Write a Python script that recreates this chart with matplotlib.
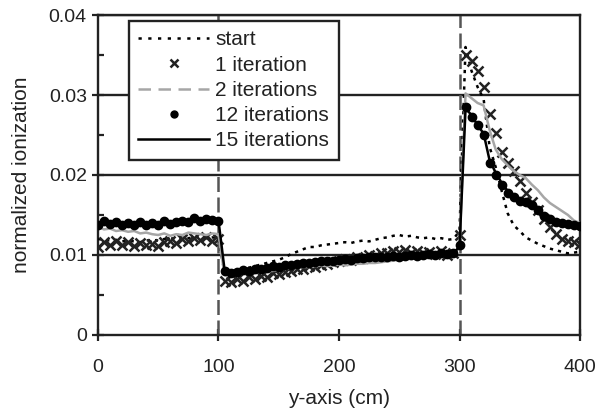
import numpy as np
import matplotlib
matplotlib.use('Agg')
import matplotlib.pyplot as plt
from matplotlib.lines import Line2D

plt.rcParams['font.family'] = ['Liberation Sans', 'DejaVu Sans']
plt.rcParams['font.size'] = 14

# position along y-axis (cm), every 5 cm
ypos = np.arange(0, 401, 5)

start = [0.0120, 0.0119, 0.0118, 0.0119, 0.0117, 0.0118, 0.0117, 0.0116, 0.0118, 0.0119,
         0.0118, 0.0120, 0.0121, 0.0120, 0.0122, 0.0121, 0.0122, 0.0123, 0.0121, 0.0122, 0.0121,
         0.0078, 0.0079, 0.0081, 0.0082, 0.0084, 0.0086, 0.0088, 0.0090, 0.0092, 0.0094,
         0.0097, 0.0101, 0.0104, 0.0107, 0.0110, 0.0110, 0.0112, 0.0113, 0.0114, 0.0115,
         0.0116, 0.0115, 0.0117, 0.0118, 0.0117, 0.0119, 0.0121, 0.0122, 0.0124, 0.0125,
         0.0123, 0.0124, 0.0122, 0.0121, 0.0122, 0.0120, 0.0121, 0.0119, 0.0120, 0.0130,
         0.0360, 0.0330, 0.0310, 0.0295, 0.0235, 0.0210, 0.0180, 0.0152, 0.0137, 0.0130,
         0.0122, 0.0118, 0.0114, 0.0111, 0.0108, 0.0106, 0.0104, 0.0102, 0.0103, 0.0104]

iter1 = [0.0110, 0.0116, 0.0112, 0.0117, 0.0113, 0.0116, 0.0111, 0.0115, 0.0112, 0.0114,
         0.0111, 0.0116, 0.0118, 0.0115, 0.0120, 0.0117, 0.0121, 0.0119, 0.0122, 0.0118, 0.0120,
         0.0068, 0.0066, 0.0070, 0.0068, 0.0072, 0.0070, 0.0074, 0.0073, 0.0077, 0.0076,
         0.0079, 0.0080, 0.0083, 0.0082, 0.0086, 0.0085, 0.0088, 0.0089, 0.0091, 0.0092,
         0.0095, 0.0094, 0.0097, 0.0096, 0.0100, 0.0099, 0.0102, 0.0103, 0.0105, 0.0104,
         0.0106, 0.0103, 0.0105, 0.0102, 0.0104, 0.0101, 0.0105, 0.0100, 0.0103, 0.0125,
         0.0350, 0.0343, 0.0330, 0.0310, 0.0276, 0.0252, 0.0229, 0.0215, 0.0205, 0.0192,
         0.0177, 0.0166, 0.0156, 0.0145, 0.0135, 0.0126, 0.0120, 0.0117, 0.0116, 0.0114]

iter2 = [0.0135, 0.0132, 0.0133, 0.0130, 0.0131, 0.0129, 0.0130, 0.0127, 0.0128, 0.0126,
         0.0125, 0.0127, 0.0124, 0.0126, 0.0125, 0.0128, 0.0127, 0.0126, 0.0125, 0.0127, 0.0126,
         0.0075, 0.0074, 0.0075, 0.0077, 0.0076, 0.0078, 0.0079, 0.0080, 0.0080, 0.0082,
         0.0083, 0.0083, 0.0084, 0.0085, 0.0085, 0.0086, 0.0087, 0.0086, 0.0087, 0.0088,
         0.0087, 0.0088, 0.0089, 0.0089, 0.0090, 0.0090, 0.0091, 0.0092, 0.0093, 0.0094,
         0.0095, 0.0095, 0.0096, 0.0096, 0.0097, 0.0097, 0.0098, 0.0098, 0.0099, 0.0110,
         0.0302, 0.0296, 0.0290, 0.0287, 0.0256, 0.0232, 0.0220, 0.0212, 0.0205, 0.0200,
         0.0196, 0.0188, 0.0181, 0.0172, 0.0165, 0.0160, 0.0155, 0.0150, 0.0143, 0.0140]

iter12 = [0.0138, 0.0142, 0.0139, 0.0141, 0.0138, 0.0140, 0.0137, 0.0141, 0.0138, 0.0140,
          0.0137, 0.0142, 0.0139, 0.0141, 0.0143, 0.0141, 0.0146, 0.0143, 0.0145, 0.0144, 0.0142,
          0.0080, 0.0078, 0.0079, 0.0081, 0.0080, 0.0082, 0.0083, 0.0084, 0.0086, 0.0085,
          0.0087, 0.0088, 0.0089, 0.0090, 0.0090, 0.0091, 0.0092, 0.0092, 0.0093, 0.0094,
          0.0095, 0.0094, 0.0096, 0.0096, 0.0097, 0.0097, 0.0098, 0.0097, 0.0099, 0.0098,
          0.0099, 0.0100, 0.0099, 0.0100, 0.0101, 0.0100, 0.0102, 0.0101, 0.0103, 0.0112,
          0.0285, 0.0272, 0.0262, 0.0250, 0.0215, 0.0200, 0.0188, 0.0178, 0.0172, 0.0168,
          0.0166, 0.0162, 0.0156, 0.0149, 0.0145, 0.0141, 0.0140, 0.0139, 0.0138, 0.0136]

iter15 = [0.0140, 0.0141, 0.0140, 0.0140, 0.0139, 0.0139, 0.0138, 0.0140, 0.0139, 0.0139,
          0.0138, 0.0141, 0.0140, 0.0141, 0.0142, 0.0142, 0.0145, 0.0144, 0.0144, 0.0144, 0.0143,
          0.0082, 0.0080, 0.0080, 0.0081, 0.0081, 0.0082, 0.0083, 0.0085, 0.0086, 0.0086,
          0.0087, 0.0088, 0.0089, 0.0090, 0.0091, 0.0091, 0.0092, 0.0093, 0.0093, 0.0094,
          0.0094, 0.0095, 0.0095, 0.0096, 0.0097, 0.0097, 0.0098, 0.0098, 0.0098, 0.0099,
          0.0099, 0.0099, 0.0100, 0.0100, 0.0100, 0.0101, 0.0101, 0.0102, 0.0103, 0.0110,
          0.0283, 0.0275, 0.0262, 0.0252, 0.0218, 0.0203, 0.0190, 0.0180, 0.0174, 0.0169,
          0.0165, 0.0160, 0.0155, 0.0150, 0.0146, 0.0142, 0.0140, 0.0139, 0.0137, 0.0135]

walls = [100, 300]
gray = '#a6a6a6'
ink = '#222222'

fig = plt.figure(figsize=(6.0, 4.18), dpi=100)
ax = fig.add_axes([0.1633, 0.1986, 0.8034, 0.7655])

for g in [0.01, 0.02, 0.03, 0.04]:
    ax.axhline(g, color=ink, lw=1.7, zorder=1)
for w in walls:
    ax.axvline(w, color='#555555', lw=1.8, dashes=(6, 2.2), zorder=2)

ax.plot(ypos, start, color='black', ls=(0, (1.3, 2.0)), lw=1.8, zorder=3)
ax.plot(ypos, iter1, ls='none', marker='x', ms=7.5, mew=1.8, color=ink, zorder=4)
ax.plot(ypos, iter2, color=gray, lw=1.8, zorder=5)
ax.plot(ypos, iter12, ls='none', marker='o', ms=6, color='black', zorder=6)
ax.plot(ypos, iter15, color='black', lw=1.8, zorder=7)

ax.set_xlim(0, 400)
ax.set_ylim(0, 0.04)
ax.set_xticks([0, 100, 200, 300, 400])
ax.set_yticks([0, 0.01, 0.02, 0.03, 0.04])
ax.set_yticklabels(['0', '0.01', '0.02', '0.03', '0.04'])
ax.set_yticks([0.005, 0.015, 0.025, 0.035], minor=True)
ax.tick_params(axis='both', which='major', direction='inout', length=9, width=1.6,
               color=ink, labelcolor=ink, labelsize=14)
ax.tick_params(axis='y', which='minor', direction='in', length=4, width=1.6, color=ink)
ax.tick_params(axis='x', which='major', pad=13)
for s in ax.spines.values():
    s.set_linewidth(1.7)
    s.set_color(ink)

ax.set_xlabel('y-axis (cm)', color=ink, fontsize=15, labelpad=9)
ax.set_ylabel('normalized ionization', color=ink, fontsize=15, labelpad=13)

handles = [
    Line2D([], [], color='black', ls=(0, (1.3, 2.6)), lw=1.8),
    Line2D([], [], ls='none', marker='x', ms=6, mew=1.8, color=ink),
    Line2D([], [], color=gray, lw=1.8, dashes=(5, 3)),
    Line2D([], [], ls='none', marker='o', ms=5, color='black'),
    Line2D([], [], color='black', lw=1.8),
]
labels = ['start', '1 iteration', '2 iterations', '12 iterations', '15 iterations']
leg = ax.legend(handles, labels, loc='upper left', bbox_to_anchor=(0.064, 0.981),
                borderaxespad=0, fancybox=False, framealpha=1, edgecolor=ink,
                handlelength=3.4, handletextpad=0.3, labelspacing=0.3, borderpad=0.45,
                fontsize=15)
leg.get_frame().set_linewidth(1.7)
leg.set_zorder(10)
for t in leg.get_texts():
    t.set_color(ink)

fig.savefig('out.png', dpi=100)
